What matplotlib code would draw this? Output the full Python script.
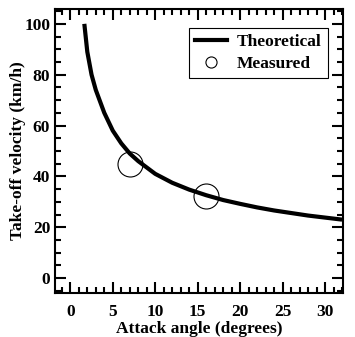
import numpy as np
import matplotlib.pyplot as plt
from matplotlib.lines import Line2D
from matplotlib.ticker import MultipleLocator

plt.rcParams['font.family'] = 'Liberation Serif'
plt.rcParams['font.weight'] = 'bold'

# theoretical curve
angle = [1.65, 2.0, 2.5, 3.0, 4, 5, 6, 7, 8, 10, 12, 14, 16, 18, 20, 22, 24, 26, 28, 30, 32]
velocity = [100, 89, 80, 74, 65, 58, 53, 49, 46, 41, 37.5, 34.8, 32.6, 30.7, 29.2,
            27.8, 26.6, 25.6, 24.6, 23.8, 23.0]

# measured points
meas_angle = [7, 16]
meas_velocity = [45, 32.3]

fig = plt.figure(figsize=(3.55, 3.37), dpi=100)
ax = fig.add_axes([0.155, 0.131, 0.811, 0.842])

ax.plot(angle, velocity, color='black', lw=3, solid_capstyle='butt')
ax.plot(meas_angle, meas_velocity, 'o', mfc='none', mec='black', ms=18, mew=0.8)

ax.set_xlim(-1.8, 32.1)
ax.set_ylim(-5.8, 105.8)
ax.xaxis.set_major_locator(MultipleLocator(5))
ax.xaxis.set_minor_locator(MultipleLocator(1))
ax.yaxis.set_major_locator(MultipleLocator(20))
ax.yaxis.set_minor_locator(MultipleLocator(5))
ax.tick_params(which='both', direction='in', top=True, right=True, width=1.5,
               labelsize=12.5, colors='black')
ax.tick_params(axis='x', pad=8)
ax.tick_params(axis='y', pad=3.5)
ax.tick_params(which='major', length=8)
ax.tick_params(which='minor', length=4.5)
for s in ax.spines.values():
    s.set_linewidth(1.5)

ax.set_xlabel('Attack angle (degrees)', fontsize=12.5, fontweight='bold', labelpad=1)
ax.set_ylabel('Take-off velocity (km/h)', fontsize=12.5, fontweight='bold', labelpad=-1)

handles = [Line2D([], [], color='black', lw=3),
           Line2D([], [], ls='none', marker='o', mfc='none', mec='black', ms=8, mew=0.8)]
leg = ax.legend(handles, ['Theoretical', 'Measured'], loc='upper right',
                bbox_to_anchor=(0.948, 0.933), borderaxespad=0, fancybox=False,
                edgecolor='black', framealpha=1, handlelength=1.85, borderpad=0.35,
                handletextpad=0.6, labelspacing=0.3,
                prop={'weight': 'bold', 'size': 12.5})
leg.get_frame().set_linewidth(0.8)

fig.savefig('out.png', dpi=100)
